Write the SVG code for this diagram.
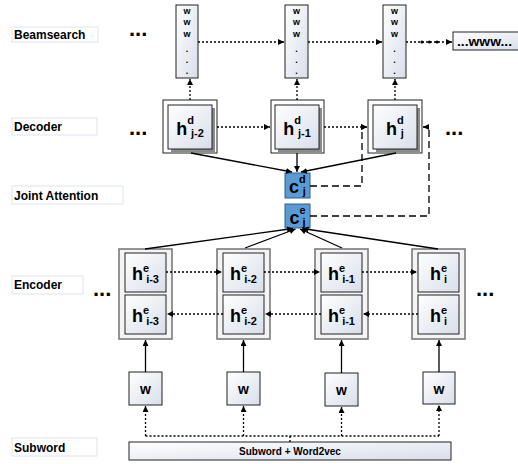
<svg xmlns="http://www.w3.org/2000/svg" width="518" height="464" viewBox="0 0 518 464">
<defs>
<linearGradient id="g" x1="0" y1="0" x2="1" y2="1"><stop offset="0" stop-color="#ffffff"/><stop offset="1" stop-color="#d8deea"/></linearGradient>
<marker id="ah" markerUnits="userSpaceOnUse" markerWidth="7" markerHeight="7" refX="6" refY="3" orient="auto"><path d="M0,0 L6,3 L0,6 z" fill="#000"/></marker>
<style>
text{font-family:"Liberation Sans",Arial,sans-serif;font-weight:bold;fill:#000}
.lab{fill:#fff;stroke:#dde4ef;stroke-width:1}
.labt{font-size:12px}
.bx{fill:url(#g);stroke:#222;stroke-width:1}
.outer{fill:#fff;stroke:#222;stroke-width:1}
.shadow{fill:#8a8a8a}
.eout{fill:#f4f4f4;stroke:#7a7a7a;stroke-width:1.6}
.cbox{fill:#5b9bd5;stroke:#2f5f8f;stroke-width:1}
.dot{fill:none;stroke:#000;stroke-width:1.3;stroke-dasharray:2,2}
.sol{fill:none;stroke:#000;stroke-width:1.3}
.dash{fill:none;stroke:#000;stroke-width:1.3;stroke-dasharray:7,4}
.ell{font-size:22px}
.bw{font-size:9px}
.big{font-size:18px}
.sm{font-size:11px}
</style>
</defs>

<g id="labels">
<rect class="lab" x="12" y="27" width="86" height="15"/><text class="labt" x="14" y="39">Beamsearch</text>
<rect class="lab" x="12" y="118" width="85" height="17"/><text class="labt" x="14" y="131">Decoder</text>
<rect class="lab" x="12" y="186" width="111" height="18"/><text class="labt" x="14" y="200">Joint Attention</text>
<rect class="lab" x="12" y="276" width="71" height="18"/><text class="labt" x="14" y="289">Encoder</text>
<rect class="lab" x="12" y="438" width="85" height="18"/><text class="labt" x="14" y="452">Subword</text>
</g>

<g id="ellipses">
<text class="ell" x="129" y="36">...</text>
<text class="ell" x="129" y="135">...</text>
<text class="ell" x="445" y="135">...</text>
<text class="ell" x="93" y="296">...</text>
<text class="ell" x="476" y="296">...</text>
</g>

<g id="beam1">
<rect class="bx" x="176" y="5" width="22" height="73"/>
<g text-anchor="middle" class="bw"><text class="bw" x="187" y="13.5">w</text><text class="bw" x="187" y="25">w</text><text class="bw" x="187" y="37">w</text><text class="bw" x="187" y="52">.</text><text class="bw" x="187" y="63">.</text><text class="bw" x="187" y="74">.</text></g>
</g>
<g id="beam2">
<rect class="bx" x="285" y="5" width="23" height="73"/>
<g text-anchor="middle"><text class="bw" x="296.5" y="13.5">w</text><text class="bw" x="296.5" y="25">w</text><text class="bw" x="296.5" y="37">w</text><text class="bw" x="296.5" y="52">.</text><text class="bw" x="296.5" y="63">.</text><text class="bw" x="296.5" y="74">.</text></g>
</g>
<g id="beam3">
<rect class="bx" x="383" y="5" width="23" height="73"/>
<g text-anchor="middle"><text class="bw" x="394.5" y="13.5">w</text><text class="bw" x="394.5" y="25">w</text><text class="bw" x="394.5" y="37">w</text><text class="bw" x="394.5" y="52">.</text><text class="bw" x="394.5" y="63">.</text><text class="bw" x="394.5" y="74">.</text></g>
</g>
<g id="beamout">
<rect class="bx" x="453" y="32" width="70" height="18"/>
<text x="457" y="46" font-size="12" textLength="55" lengthAdjust="spacingAndGlyphs">...www...</text>
</g>

<g id="dec1">
<rect class="outer" x="163" y="100" width="54" height="53"/>
<rect class="shadow" x="171" y="108" width="44" height="44"/>
<rect class="bx" x="168" y="105" width="44" height="44"/>
<text x="190" y="135" text-anchor="middle"><tspan class="big">h</tspan><tspan class="sm" dy="-11">d</tspan><tspan class="sm" dx="-3" dy="13">j-2</tspan></text>
</g>
<g id="dec2">
<rect class="outer" x="271" y="100" width="53" height="53"/>
<rect class="shadow" x="278" y="108" width="44" height="44"/>
<rect class="bx" x="275" y="105" width="44" height="44"/>
<text x="297" y="135" text-anchor="middle"><tspan class="big">h</tspan><tspan class="sm" dy="-11">d</tspan><tspan class="sm" dx="-3" dy="13">j-1</tspan></text>
</g>
<g id="dec3">
<rect class="outer" x="368" y="100" width="54" height="53"/>
<rect class="shadow" x="376" y="108" width="44" height="44"/>
<rect class="bx" x="373" y="105" width="44" height="44"/>
<text x="395" y="135" text-anchor="middle"><tspan class="big">h</tspan><tspan class="sm" dy="-11">d</tspan><tspan class="sm" dx="-3" dy="13">j</tspan></text>
</g>

<g id="cd">
<rect class="cbox" x="285" y="173" width="25" height="25"/>
<text x="297.5" y="193" text-anchor="middle"><tspan class="big">c</tspan><tspan class="sm" dy="-10">d</tspan><tspan class="sm" dx="-3" dy="12">j</tspan></text>
</g>
<g id="ce">
<rect class="cbox" x="285" y="204" width="25" height="24"/>
<text x="297.5" y="223.5" text-anchor="middle"><tspan class="big">c</tspan><tspan class="sm" dy="-10">e</tspan><tspan class="sm" dx="-3" dy="12">j</tspan></text>
</g>

<g id="enc1">
<rect class="eout" x="119" y="249" width="53" height="90"/>
<rect class="bx" x="125" y="253" width="41" height="39"/>
<rect class="bx" x="125" y="295" width="41" height="39"/>
<text x="145.5" y="280" text-anchor="middle"><tspan class="big">h</tspan><tspan class="sm" dy="-8">e</tspan><tspan class="sm" dx="-3" dy="11">i-3</tspan></text>
<text x="145.5" y="322" text-anchor="middle"><tspan class="big">h</tspan><tspan class="sm" dy="-8">e</tspan><tspan class="sm" dx="-3" dy="11">i-3</tspan></text>
</g>
<g id="enc2">
<rect class="eout" x="217" y="249" width="53" height="90"/>
<rect class="bx" x="223" y="253" width="41" height="39"/>
<rect class="bx" x="223" y="295" width="41" height="39"/>
<text x="243.5" y="280" text-anchor="middle"><tspan class="big">h</tspan><tspan class="sm" dy="-8">e</tspan><tspan class="sm" dx="-3" dy="11">i-2</tspan></text>
<text x="243.5" y="322" text-anchor="middle"><tspan class="big">h</tspan><tspan class="sm" dy="-8">e</tspan><tspan class="sm" dx="-3" dy="11">i-2</tspan></text>
</g>
<g id="enc3">
<rect class="eout" x="315" y="249" width="53" height="90"/>
<rect class="bx" x="321" y="253" width="41" height="39"/>
<rect class="bx" x="321" y="295" width="41" height="39"/>
<text x="341.5" y="280" text-anchor="middle"><tspan class="big">h</tspan><tspan class="sm" dy="-8">e</tspan><tspan class="sm" dx="-3" dy="11">i-1</tspan></text>
<text x="341.5" y="322" text-anchor="middle"><tspan class="big">h</tspan><tspan class="sm" dy="-8">e</tspan><tspan class="sm" dx="-3" dy="11">i-1</tspan></text>
</g>
<g id="enc4">
<rect class="eout" x="412" y="249" width="53" height="90"/>
<rect class="bx" x="418" y="253" width="41" height="39"/>
<rect class="bx" x="418" y="295" width="41" height="39"/>
<text x="438.5" y="280" text-anchor="middle"><tspan class="big">h</tspan><tspan class="sm" dy="-8">e</tspan><tspan class="sm" dx="-3" dy="11">i</tspan></text>
<text x="438.5" y="322" text-anchor="middle"><tspan class="big">h</tspan><tspan class="sm" dy="-8">e</tspan><tspan class="sm" dx="-3" dy="11">i</tspan></text>
</g>

<g id="w1"><rect class="bx" x="129" y="372" width="33" height="33"/><text x="145.5" y="394" font-size="14" text-anchor="middle">w</text></g>
<g id="w2"><rect class="bx" x="227" y="372" width="33" height="33"/><text x="243.5" y="394" font-size="14" text-anchor="middle">w</text></g>
<g id="w3"><rect class="bx" x="325" y="373" width="33" height="33"/><text x="341.5" y="395" font-size="14" text-anchor="middle">w</text></g>
<g id="w4"><rect class="bx" x="423" y="372" width="32" height="32"/><text x="439" y="394" font-size="14" text-anchor="middle">w</text></g>

<g id="subword">
<rect class="bx" x="129" y="442" width="322" height="18"/>
<text x="290" y="455" font-size="10" text-anchor="middle">Subword + Word2vec</text>
</g>

<g id="connectors">
<!-- beamsearch horizontal -->
<path class="dot" d="M198,42 H284" marker-end="url(#ah)"/>
<path class="dot" d="M308,42 H382" marker-end="url(#ah)"/>
<path class="dot" d="M406,42 H452" marker-end="url(#ah)"/>
<circle cx="422" cy="42" r="1.6"/><circle cx="429.5" cy="42" r="1.6"/><circle cx="437" cy="42" r="1.6"/>
<!-- decoder to beam -->
<path class="dot" d="M190,100 V79" marker-end="url(#ah)"/>
<path class="dot" d="M297,100 V79" marker-end="url(#ah)"/>
<path class="dot" d="M395,100 V79" marker-end="url(#ah)"/>
<!-- decoder horizontal -->
<path class="dot" d="M217,127 H270" marker-end="url(#ah)"/>
<path class="dot" d="M324,127 H367" marker-end="url(#ah)"/>
<!-- decoder to c^d -->
<path class="sol" d="M191,153 L292,172" marker-end="url(#ah)"/>
<path class="sol" d="M297,153 V172" marker-end="url(#ah)"/>
<path class="sol" d="M396,153 L301,172" marker-end="url(#ah)"/>
<!-- dashed feedback -->
<path class="dash" d="M310,186 H362 V127 H367" marker-end="url(#ah)"/>
<path class="dash" d="M310,216 H429 V127 H423" marker-end="url(#ah)"/>
<!-- encoder to c^e -->
<path class="sol" d="M145,249 L293,228.5" marker-end="url(#ah)"/>
<path class="sol" d="M245,248 L295.5,229" marker-end="url(#ah)"/>
<path class="sol" d="M342,248 L300,229" marker-end="url(#ah)"/>
<path class="sol" d="M438,249 L302.5,228.5" marker-end="url(#ah)"/>
<!-- encoder horizontal -->
<path class="dot" d="M166,272 H222" marker-end="url(#ah)"/>
<path class="dot" d="M264,272 H320" marker-end="url(#ah)"/>
<path class="dot" d="M362,272 H417" marker-end="url(#ah)"/>
<path class="dot" d="M223,314 H167" marker-end="url(#ah)"/>
<path class="dot" d="M321,314 H265" marker-end="url(#ah)"/>
<path class="dot" d="M418,314 H363" marker-end="url(#ah)"/>
<!-- w to encoder -->
<path class="sol" d="M145.5,372 V340" marker-end="url(#ah)"/>
<path class="sol" d="M243.5,372 V340" marker-end="url(#ah)"/>
<path class="sol" d="M341.5,373 V340" marker-end="url(#ah)"/>
<path class="sol" d="M439,372 V340" marker-end="url(#ah)"/>
<!-- subword to w -->
<path class="dot" d="M145.5,436 H439"/>
<path class="dot" d="M290,442 V436"/>
<path class="dot" d="M145.5,436 V406" marker-end="url(#ah)"/>
<path class="dot" d="M243.5,436 V406" marker-end="url(#ah)"/>
<path class="dot" d="M341.5,436 V407" marker-end="url(#ah)"/>
<path class="dot" d="M439,436 V405" marker-end="url(#ah)"/>
</g>
</svg>
